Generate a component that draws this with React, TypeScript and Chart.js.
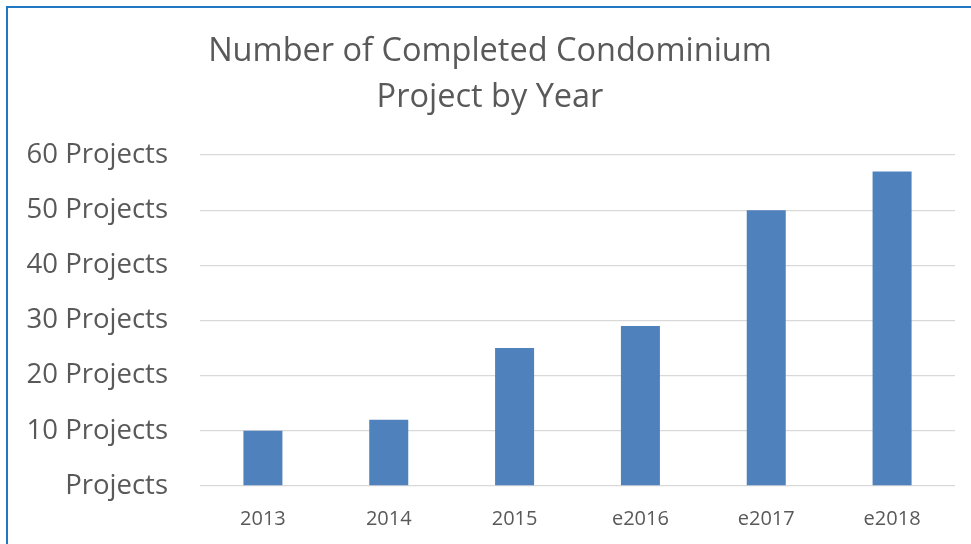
import React, { useEffect, useRef } from "react";
import { Chart, registerables } from "chart.js";

Chart.register(...registerables);

const categories = ["2013", "2014", "2015", "e2016", "e2017", "e2018"];
const projectCounts = [10, 12, 25, 29, 50, 57];
const titleLines = ["Number of Completed Condominium", "Project by Year"];
const yTickMax = 60;
const yTickStep = 10;

export default function App() {
  const canvasRef = useRef<HTMLCanvasElement | null>(null);

  useEffect(() => {
    const canvas = canvasRef.current;
    if (!canvas) return;
    const font = "'Open Sans', sans-serif";
    const chart = new Chart(canvas, {
      type: "bar",
      data: {
        labels: categories,
        datasets: [
          {
            label: "Projects",
            data: projectCounts,
            backgroundColor: "#4F81BD",
            barPercentage: 0.31,
            categoryPercentage: 1,
          },
        ],
      },
      options: {
        animation: false,
        responsive: false,
        maintainAspectRatio: false,
        layout: { padding: { left: 17, right: 17, top: 0, bottom: 0 } },
        plugins: {
          legend: { display: false },
          tooltip: { enabled: false },
          title: {
            display: true,
            text: titleLines,
            color: "#595959",
            font: { family: font, size: 32.5, weight: "normal", lineHeight: 1.4 },
            padding: { top: 21, bottom: 35 },
          },
        },
        scales: {
          x: {
            grid: { display: false },
            border: { display: false },
            ticks: {
              color: "#595959",
              font: { family: font, size: 20 },
              padding: 13,
              maxRotation: 0,
            },
            afterFit: (scale: any) => {
              scale.height = 58;
            },
          },
          y: {
            min: 0,
            max: yTickMax,
            grid: { color: "#D9D9D9", lineWidth: 1.3, drawTicks: false },
            border: { display: false },
            ticks: {
              stepSize: yTickStep,
              color: "#595959",
              font: { family: font, size: 27.5 },
              padding: 32,
              callback: (v: any) => (Number(v) === 0 ? "Projects" : `${v} Projects`),
            },
            afterFit: (scale: any) => {
              scale.width = 175;
            },
          },
        },
      },
    });
    return () => chart.destroy();
  }, []);

  return (
    <div
      style={{
        position: "fixed",
        left: 0,
        top: 0,
        width: "100vw",
        height: "100vh",
        overflow: "hidden",
        background: "#fff",
      }}
    >
      <div
        style={{
          position: "absolute",
          left: 6,
          top: 6,
          width: 1000,
          height: 600,
          borderLeft: "2px solid #1F78C1",
          borderTop: "2px solid #1F78C1",
        }}
      />
      <canvas
        ref={canvasRef}
        width={964}
        height={536}
        style={{ position: "absolute", left: 8, top: 8, width: 964, height: 536 }}
      />
    </div>
  );
}
